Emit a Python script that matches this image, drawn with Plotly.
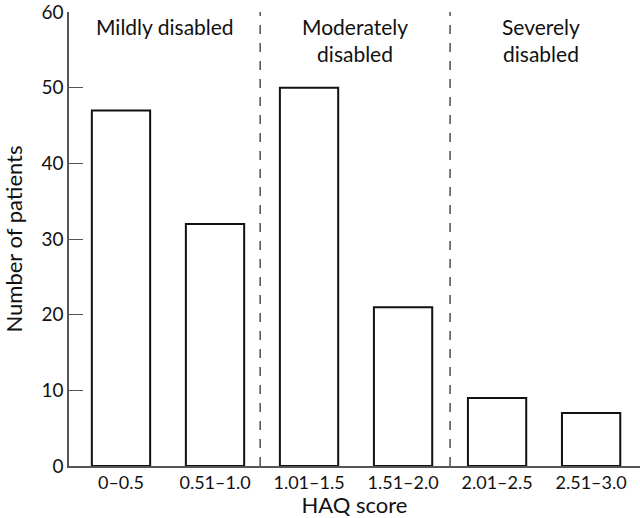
import plotly.graph_objects as go

# HAQ score groups and patient counts
categories = ["0–0.5", "0.51–1.0", "1.01–1.5", "1.51–2.0", "2.01–2.5", "2.51–3.0"]
patients = [47, 32, 50, 21, 9, 7]
groups = ["Mildly disabled", "Moderately<br>disabled", "Severely<br>disabled"]
group_centres = [0.47, 2.49, 4.47]
dividers = [1.48, 3.5]

font = "Lato, 'Noto Sans', sans-serif"

fig = go.Figure(go.Bar(
    x=list(range(len(categories))), y=patients,
    marker=dict(color="white", line=dict(color="#111", width=2)),
    width=0.62,
))

# dashed separators between disability groups
for d in dividers:
    fig.add_shape(type="line", xref="x", yref="paper", x0=d, x1=d, y0=0, y1=1,
                  line=dict(color="#333", width=1.3, dash="dash"))

for name, cx in zip(groups, group_centres):
    fig.add_annotation(x=cx, y=1.0, xref="x", yref="paper", text=name,
                       showarrow=False, yanchor="top", align="center",
                       font=dict(size=21, color="#111", family=font))

fig.update_layout(
    width=640, height=518,
    margin=dict(l=69, r=0, t=12, b=52),
    plot_bgcolor="white", paper_bgcolor="white",
    showlegend=False,
    font=dict(family=font, size=18, color="#111"),
)
fig.update_xaxes(
    range=[-0.553, 5.52], tickvals=list(range(len(categories))), ticktext=categories,
    showline=True, linecolor="#555", linewidth=1.5, showgrid=False, zeroline=False,
    ticks="", automargin=False, title=dict(text="HAQ score", standoff=2),
)
fig.update_yaxes(
    range=[0, 60.02], tickvals=[0, 10, 20, 30, 40, 50, 60], ticklabeloverflow="allow",
    tickfont=dict(size=19),
    showline=True, linecolor="#555", linewidth=1.5,
    showgrid=False, zeroline=False, ticks="inside", ticklen=14, tickcolor="#555",
    tickwidth=1.3, automargin=False, title=dict(text="Number of patients", standoff=16),
)

# page body has a default 8px margin; drop it so the figure fills the window
fig.write_html("out.html", config={"displayModeBar": False},
               post_script="document.body.style.margin='0';")
